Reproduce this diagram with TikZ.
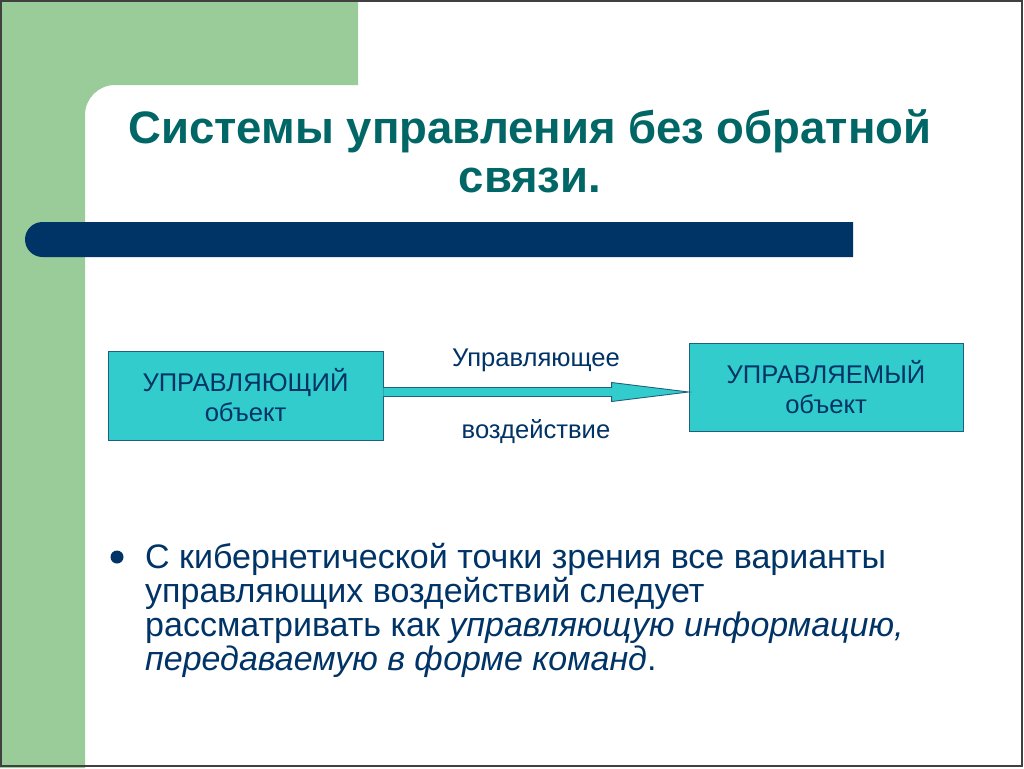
\documentclass[tikz,border=0pt]{standalone}
\usepackage{fontspec}
\setmainfont{Liberation Sans}
\usetikzlibrary{calc}
\definecolor{bandgreen}{HTML}{99CC99}
\definecolor{bardark}{HTML}{003366}
\definecolor{titleteal}{HTML}{006666}
\definecolor{boxfill}{HTML}{33CCCC}
\definecolor{boxline}{HTML}{1F5F7F}
\definecolor{txtblue}{HTML}{003366}
\tikzset{
  objbox/.style={draw=boxline,line width=0.9pt,fill=boxfill,minimum width=275pt,minimum height=89pt,inner sep=0pt,align=center,text=txtblue,font=\fontsize{25.6}{30}\selectfont},
  lbl/.style={text=txtblue,font=\fontsize{25.6}{30}\selectfont,inner sep=0pt},
  flowarrow/.style={draw=boxline,fill=boxfill,line width=0.9pt,line join=miter},
}
\begin{document}
\begin{tikzpicture}[x=1pt,y=-1pt]
\useasboundingbox (0,0) rectangle (1024,768);
\fill[white] (0,0) rectangle (1024,768);
% green band
\fill[bandgreen] (0,0) -- (358,0) -- (358,85) [rounded corners=30pt] -- (85,85) [sharp corners] -- (85,768) -- (0,768) -- cycle;
% frame
\draw[line width=1.5pt,black!75] (1,1) rectangle (1022,766);
% dark bar
\fill[bardark] (853,222) [rounded corners=17.5pt] -- (25,222) -- (25,257) [sharp corners] -- (853,257) -- cycle;
% title
\node[text=titleteal,font=\fontsize{45.5}{49}\selectfont\bfseries,align=center,anchor=base] (title) at (530,192) {Системы управления без обратной\\связи.};
% boxes
\node[objbox] (ctrl) at (245.5,395.5) {УПРАВЛЯЮЩИЙ\\объект};
\node[objbox,minimum width=274pt,minimum height=88pt] (obj) at (826,387) {УПРАВЛЯЕМЫЙ\\объект};
% arrow
\coordinate (a0) at (ctrl.east |- 0,392);
\coordinate (a1) at (obj.west |- 0,392);
\filldraw[flowarrow] ($(a0)+(0,-4.5)$) -- ($(a1)+(-77,-4.5)$) -- ($(a1)+(-77,-9.5)$) -- (a1) -- ($(a1)+(-77,9.5)$) -- ($(a1)+(-77,4.5)$) -- ($(a0)+(0,4.5)$);
\node[lbl,anchor=base] (l1) at (536,366) {Управляющее};
\node[lbl,anchor=base] (l2) at (536,438) {воздействие};
% bullet
\fill[txtblue] (117,557) circle[radius=6.5];
\node[anchor=base west,text=txtblue,align=left,inner sep=0pt,font=\fontsize{34}{34}\selectfont] (bul) at (145,670) {С кибернетической точки зрения все варианты\\управляющих воздействий следует\\рассматривать как \textit{управляющую информацию,}\\\textit{передаваемую в форме команд}.};
\end{tikzpicture}
\end{document}
